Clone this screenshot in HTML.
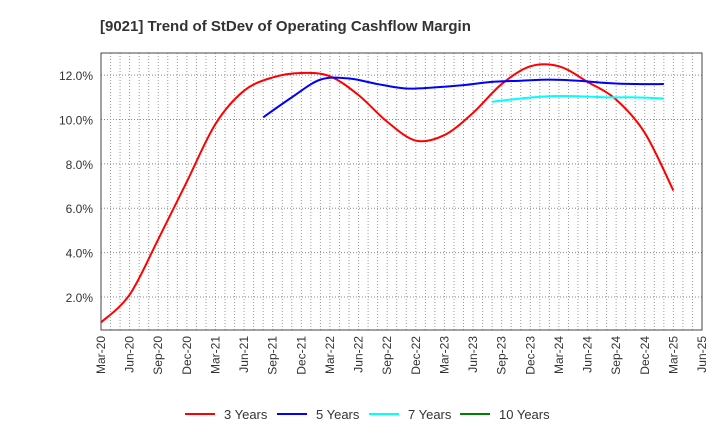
<!DOCTYPE html>
<html><head><meta charset="utf-8"><style>
body{margin:0;background:#fff;font-family:"Liberation Sans",sans-serif}
</style></head><body>
<svg id="c" width="720" height="440" xmlns="http://www.w3.org/2000/svg" font-family="Liberation Sans, sans-serif">
<text x="100" y="31" font-size="15" font-weight="bold" fill="#333">[9021]  Trend of StDev of Operating Cashflow Margin</text>
<g id="grid"></g><g id="axes"></g><g id="series"></g><g id="legend"></g>
</svg>
<script>
const xLabels=["Mar-20","Jun-20","Sep-20","Dec-20","Mar-21","Jun-21","Sep-21","Dec-21","Mar-22","Jun-22","Sep-22","Dec-22","Mar-23","Jun-23","Sep-23","Dec-23","Mar-24","Jun-24","Sep-24","Dec-24","Mar-25","Jun-25"];
const yTicks=[2,4,6,8,10,12];
const s3Start=0;
const s3=[0.85,2.1,4.6,7.2,9.8,11.3,11.9,12.1,11.95,11.1,9.9,9.05,9.3,10.3,11.6,12.4,12.4,11.7,10.9,9.4,6.8];
const s5Start=17;
const s5=[10.1,11.0,11.8,11.85,11.6,11.4,11.45,11.55,11.7,11.75,11.8,11.75,11.65,11.6,11.6];
const s7Start=41;
const s7=[10.8,10.95,11.05,11.05,11.0,11.0,10.95];
const s10Start=0;
const s10=[];
const L=101,R=702,T=53,B=330,yMin=0.51,yMax=13;
const XM=m=>L+m*(R-L)/63, Y=v=>B-(v-yMin)/(yMax-yMin)*(B-T);
const ns="http://www.w3.org/2000/svg";
function mk(p,t,a){const e=document.createElementNS(ns,t);for(const k in a)e.setAttribute(k,a[k]);p.appendChild(e);return e;}
const g=document.getElementById('grid'),ax=document.getElementById('axes'),sg=document.getElementById('series'),lg=document.getElementById('legend');
for(let m=1;m<63;m++){const x=XM(m);const l=mk(g,'line',{x1:x,x2:x,y1:T,y2:B,stroke:'#999','stroke-dasharray':'1,2','stroke-width':1});

}
yTicks.forEach(v=>{const l=mk(g,'line',{x1:L,x2:R,y1:Y(v),y2:Y(v),stroke:'#888','stroke-dasharray':'1,2'});


const t=mk(ax,'text',{x:L-8,y:Y(v)+5,'text-anchor':'end','font-size':12,fill:'#333'});t.textContent=v.toFixed(1)+'%';

});
const fr=mk(ax,'rect',{x:L,y:T,width:R-L,height:B-T,fill:'none',stroke:'#444','stroke-width':1});


xLabels.forEach((s,i)=>{const x=XM(i*3);const t=mk(ax,'text',{x:x+4,y:B+6,'text-anchor':'end','font-size':12,fill:'#333',transform:`rotate(-90 ${x+4} ${B+6})`});t.textContent=s;

});
function path(arr,start){const pts=arr.map((v,i)=>[XM(start+i*3),Y(v)]);if(pts.length<2)return '';
let d=`M${pts[0][0]},${pts[0][1]}`;for(let i=0;i<pts.length-1;i++){const p0=pts[i-1]||pts[i],p1=pts[i],p2=pts[i+1],p3=pts[i+2]||p2;
d+=` C${p1[0]+(p2[0]-p0[0])/6},${p1[1]+(p2[1]-p0[1])/6} ${p2[0]-(p3[0]-p1[0])/6},${p2[1]-(p3[1]-p1[1])/6} ${p2[0]},${p2[1]}`;}return d;}
const series=[[s3,s3Start,'#ff0000','3 Years','series-3-years'],[s5,s5Start,'#0000ff','5 Years','series-5-years'],[s7,s7Start,'#00ffff','7 Years','series-7-years'],[s10,s10Start,'#008000','10 Years','series-10-years']];
series.forEach(([arr,st,c,n,dn])=>{const d=path(arr,st);if(d){const p=mk(sg,'path',{d:d,fill:'none',stroke:c,'stroke-width':2});

}});
const lx=[185,277,369,460];
series.forEach(([arr,st,c,n,dn],i)=>{const gg=mk(lg,'g',{});


mk(gg,'line',{x1:lx[i],x2:lx[i]+30,y1:414,y2:414,stroke:c,'stroke-width':2});
const t=mk(gg,'text',{x:lx[i]+39,y:419,'font-size':13,fill:'#333'});t.textContent=n;});
</script>
</body></html>
